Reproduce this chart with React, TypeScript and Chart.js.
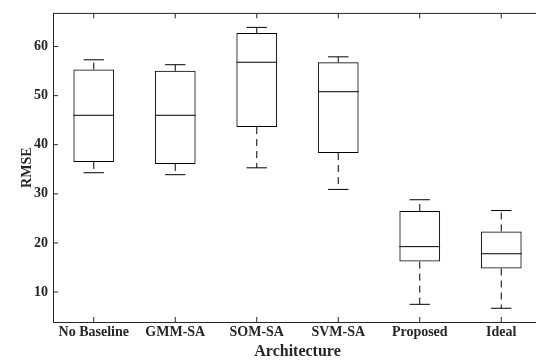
import React, { useEffect, useRef } from "react";
import { Chart, registerables } from "chart.js";

Chart.register(...registerables);

const categories = ["No Baseline", "GMM-SA", "SOM-SA", "SVM-SA", "Proposed", "Ideal"];
const whiskerLow = [34.3, 33.9, 35.3, 30.9, 7.5, 6.7];
const q1 = [36.5, 36.1, 43.6, 38.3, 16.2, 14.8];
const median = [46.0, 46.0, 56.8, 50.8, 19.25, 17.8];
const q3 = [55.3, 55.05, 62.75, 56.8, 26.5, 22.35];
const whiskerHigh = [57.3, 56.3, 63.9, 57.9, 28.8, 26.6];
const yTicks = [10, 20, 30, 40, 50, 60];
const yMin = 3.9;
const yMax = 66.75;

const AXIS = "#262626";
const FONT = "'Liberation Serif', 'Times New Roman', serif";

const boxPlugin = {
  id: "boxExtras",
  afterDatasetsDraw(chart: any) {
    const ctx = chart.ctx;
    const y = chart.scales.y;
    const meta = chart.getDatasetMeta(0);
    ctx.save();
    ctx.strokeStyle = "#000";
    ctx.lineWidth = 1;
    meta.data.forEach((bar: any, i: number) => {
      const cx = bar.x;
      const half = bar.width / 2;
      const capHalf = bar.width / 4;
      const pMed = y.getPixelForValue(median[i]);
      const pQ1 = y.getPixelForValue(q1[i]);
      const pQ3 = y.getPixelForValue(q3[i]);
      const pLo = y.getPixelForValue(whiskerLow[i]);
      const pHi = y.getPixelForValue(whiskerHigh[i]);
      ctx.setLineDash([]);
      ctx.beginPath();
      ctx.moveTo(cx - half, pMed);
      ctx.lineTo(cx + half, pMed);
      ctx.stroke();
      ctx.setLineDash([7, 5]);
      ctx.beginPath();
      ctx.moveTo(cx, pQ3);
      ctx.lineTo(cx, pHi);
      ctx.moveTo(cx, pQ1);
      ctx.lineTo(cx, pLo);
      ctx.stroke();
      ctx.setLineDash([]);
      ctx.beginPath();
      ctx.moveTo(cx - capHalf, pHi);
      ctx.lineTo(cx + capHalf, pHi);
      ctx.moveTo(cx - capHalf, pLo);
      ctx.lineTo(cx + capHalf, pLo);
      ctx.stroke();
    });
    ctx.restore();
  },
  afterDraw(chart: any) {
    const ctx = chart.ctx;
    const { left, right, top, bottom } = chart.chartArea;
    const x = chart.scales.x;
    const y = chart.scales.y;
    ctx.save();
    ctx.strokeStyle = AXIS;
    ctx.lineWidth = 1;
    ctx.beginPath();
    ctx.moveTo(left, top);
    ctx.lineTo(right, top);
    categories.forEach((_, i) => {
      const px = x.getPixelForValue(i);
      ctx.moveTo(px, bottom);
      ctx.lineTo(px, bottom - 5);
      ctx.moveTo(px, top);
      ctx.lineTo(px, top + 5);
    });
    yTicks.forEach((v) => {
      const py = y.getPixelForValue(v);
      ctx.moveTo(left, py);
      ctx.lineTo(left + 5, py);
    });
    ctx.stroke();
    ctx.restore();
  },
};

export default function App() {
  const ref = useRef<HTMLCanvasElement>(null);
  useEffect(() => {
    if (!ref.current) return;
    const chart = new Chart(ref.current, {
      type: "bar",
      data: {
        labels: categories,
        datasets: [
          {
            data: categories.map((_, i) => [q1[i], q3[i]]),
            backgroundColor: "rgba(255,255,255,0)",
            borderColor: "#000",
            borderWidth: 1,
            borderSkipped: false,
            barPercentage: 0.5,
            categoryPercentage: 1,
          } as any,
        ],
      },
      options: {
        animation: false,
        responsive: false,
        layout: { padding: { top: 12, right: 18, left: 0, bottom: 0 } },
        plugins: { legend: { display: false }, tooltip: { enabled: false } },
        scales: {
          x: {
            type: "category",
            offset: true,
            grid: { display: false, offset: false, drawTicks: false },
            border: { display: true, color: AXIS, width: 1 },
            ticks: {
              color: AXIS,
              padding: 2,
              maxRotation: 0,
              autoSkip: false,
              font: { family: FONT, size: 14, weight: "bold" },
            },
            title: {
              display: true,
              text: "Architecture",
              color: AXIS,
              padding: { top: 0, bottom: 3 },
              font: { family: FONT, size: 16, weight: "bold" },
            },
            afterFit: (s: any) => {
              s.height = 42;
            },
          },
          y: {
            min: yMin,
            max: yMax,
            grid: { display: false, drawTicks: false },
            border: { display: true, color: AXIS, width: 1 },
            afterBuildTicks: (s: any) => {
              s.ticks = yTicks.map((v) => ({ value: v }));
            },
            ticks: {
              color: AXIS,
              padding: 5,
              font: { family: FONT, size: 14, weight: "bold" },
            },
            title: {
              display: true,
              text: "RMSE",
              color: AXIS,
              padding: { top: 19, bottom: 0 },
              font: { family: FONT, size: 14, weight: "bold" },
            },
            afterFit: (s: any) => {
              s.width = 53;
            },
          },
        },
      },
      plugins: [boxPlugin],
    });
    return () => chart.destroy();
  }, []);
  return (
    <div
      style={{
        position: "fixed",
        left: 0,
        top: 0,
        width: 536,
        height: 364,
        overflow: "hidden",
        background: "#fff",
      }}
    >
      <canvas ref={ref} width={560} height={364} style={{ display: "block" }} />
    </div>
  );
}
